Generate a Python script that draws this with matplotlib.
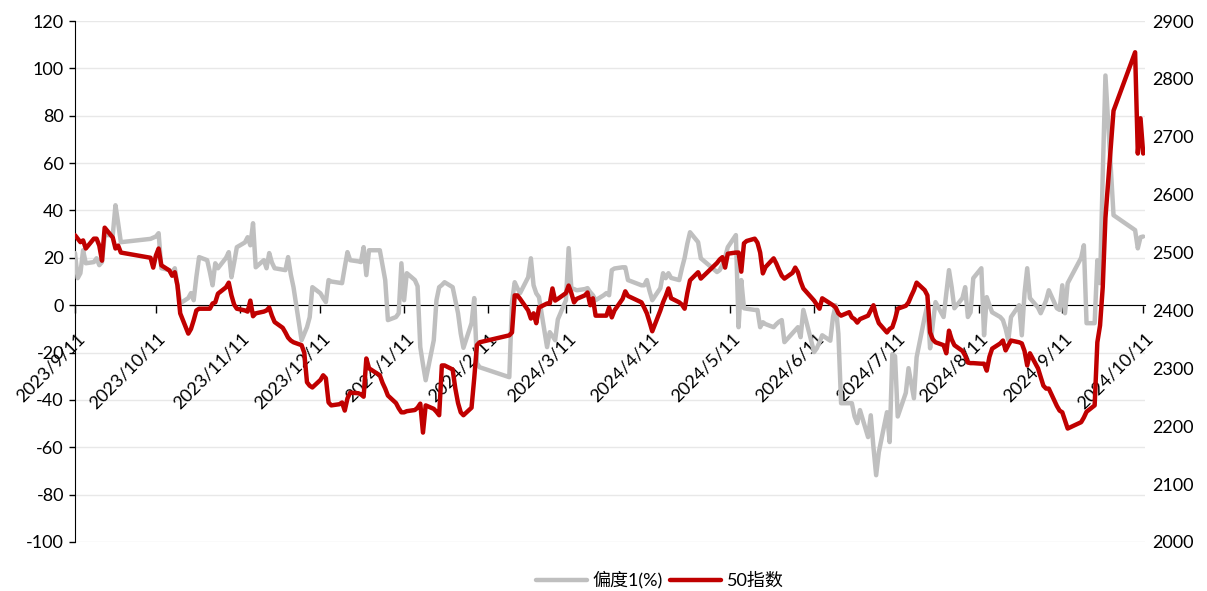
import matplotlib
matplotlib.use('Agg')
import matplotlib.pyplot as plt
import pandas as pd
from matplotlib.transforms import ScaledTranslation

plt.rcParams['font.family'] = ['Lato', 'Noto Sans CJK SC', 'DejaVu Sans']
plt.rcParams['axes.unicode_minus'] = False

# 偏度1(%)  (left axis)
skew_dates = [
    '2023-09-11', '2023-09-12', '2023-09-13', '2023-09-14', '2023-09-15', '2023-09-18', '2023-09-19',
    '2023-09-20', '2023-09-21', '2023-09-22', '2023-09-25', '2023-09-26', '2023-09-27', '2023-09-28',
    '2023-10-09', '2023-10-10', '2023-10-11', '2023-10-12', '2023-10-13', '2023-10-16', '2023-10-17',
    '2023-10-18', '2023-10-19', '2023-10-20', '2023-10-23', '2023-10-24', '2023-10-25', '2023-10-26',
    '2023-10-27', '2023-10-30', '2023-10-31', '2023-11-01', '2023-11-02', '2023-11-03', '2023-11-06',
    '2023-11-07', '2023-11-08', '2023-11-09', '2023-11-10', '2023-11-13', '2023-11-14', '2023-11-15',
    '2023-11-16', '2023-11-17', '2023-11-20', '2023-11-21', '2023-11-22', '2023-11-23', '2023-11-24',
    '2023-11-27', '2023-11-28', '2023-11-29', '2023-11-30', '2023-12-01', '2023-12-04', '2023-12-05',
    '2023-12-06', '2023-12-07', '2023-12-08', '2023-12-11', '2023-12-12', '2023-12-13', '2023-12-14',
    '2023-12-15', '2023-12-18', '2023-12-19', '2023-12-20', '2023-12-21', '2023-12-22', '2023-12-25',
    '2023-12-26', '2023-12-27', '2023-12-28', '2023-12-29', '2024-01-02', '2024-01-03', '2024-01-04',
    '2024-01-05', '2024-01-08', '2024-01-09', '2024-01-10', '2024-01-11', '2024-01-12', '2024-01-15',
    '2024-01-16', '2024-01-17', '2024-01-18', '2024-01-19', '2024-01-22', '2024-01-23', '2024-01-24',
    '2024-01-25', '2024-01-26', '2024-01-29', '2024-01-30', '2024-01-31', '2024-02-01', '2024-02-02',
    '2024-02-05', '2024-02-06', '2024-02-07', '2024-02-08', '2024-02-19', '2024-02-20', '2024-02-21',
    '2024-02-22', '2024-02-23', '2024-02-26', '2024-02-27', '2024-02-28', '2024-02-29', '2024-03-01',
    '2024-03-04', '2024-03-05', '2024-03-06', '2024-03-07', '2024-03-08', '2024-03-11', '2024-03-12',
    '2024-03-13', '2024-03-14', '2024-03-15', '2024-03-18', '2024-03-19', '2024-03-20', '2024-03-21',
    '2024-03-22', '2024-03-25', '2024-03-26', '2024-03-27', '2024-03-28', '2024-03-29', '2024-04-01',
    '2024-04-02', '2024-04-03', '2024-04-08', '2024-04-09', '2024-04-10', '2024-04-11', '2024-04-12',
    '2024-04-15', '2024-04-16', '2024-04-17', '2024-04-18', '2024-04-19', '2024-04-22', '2024-04-23',
    '2024-04-24', '2024-04-25', '2024-04-26', '2024-04-29', '2024-04-30', '2024-05-06', '2024-05-07',
    '2024-05-08', '2024-05-09', '2024-05-10', '2024-05-13', '2024-05-14', '2024-05-15', '2024-05-16',
    '2024-05-17', '2024-05-20', '2024-05-21', '2024-05-22', '2024-05-23', '2024-05-24', '2024-05-27',
    '2024-05-28', '2024-05-29', '2024-05-30', '2024-05-31', '2024-06-03', '2024-06-04', '2024-06-05',
    '2024-06-06', '2024-06-07', '2024-06-11', '2024-06-12', '2024-06-13', '2024-06-14', '2024-06-17',
    '2024-06-18', '2024-06-19', '2024-06-20', '2024-06-21', '2024-06-24', '2024-06-25', '2024-06-26',
    '2024-06-27', '2024-06-28', '2024-07-01', '2024-07-02', '2024-07-03', '2024-07-04', '2024-07-05',
    '2024-07-08', '2024-07-09', '2024-07-10', '2024-07-11', '2024-07-12', '2024-07-15', '2024-07-16',
    '2024-07-17', '2024-07-18', '2024-07-19', '2024-07-22', '2024-07-23', '2024-07-24', '2024-07-25',
    '2024-07-26', '2024-07-29', '2024-07-30', '2024-07-31', '2024-08-01', '2024-08-02', '2024-08-05',
    '2024-08-06', '2024-08-07', '2024-08-08', '2024-08-09', '2024-08-12', '2024-08-13', '2024-08-14',
    '2024-08-15', '2024-08-16', '2024-08-19', '2024-08-20', '2024-08-21', '2024-08-22', '2024-08-23',
    '2024-08-26', '2024-08-27', '2024-08-28', '2024-08-29', '2024-08-30', '2024-09-02', '2024-09-03',
    '2024-09-04', '2024-09-05', '2024-09-06', '2024-09-09', '2024-09-10', '2024-09-11', '2024-09-12',
    '2024-09-13', '2024-09-18', '2024-09-19', '2024-09-20', '2024-09-23', '2024-09-24', '2024-09-25',
    '2024-09-26', '2024-09-27', '2024-09-30', '2024-10-08', '2024-10-09', '2024-10-10', '2024-10-11',
]
skew_vals = [
    22.0, 11.4, 13.5, 23.2, 17.7, 18.2, 19.8,
    16.9, 18.2, 29.6, 29.6, 42.2, 34.6, 26.6,
    28.0, 28.5, 29.0, 30.4, 15.6, 14.8, 13.5,
    15.6, 8.0, 0.8, 3.0, 5.1, 2.1, 12.0,
    20.3, 19.0, 14.0, 8.4, 17.7, 15.6, 20.0,
    22.4, 11.8, 18.0, 24.5, 26.5, 28.7, 25.3,
    34.6, 16.0, 19.0, 15.6, 22.0, 18.0, 15.6,
    15.0, 14.8, 20.3, 13.0, 7.6, -14.8, -12.0,
    -9.3, -5.1, 7.6, 5.0, 3.0, 1.3, 10.6,
    10.0, 9.5, 9.3, 16.0, 22.4, 19.0, 18.5,
    18.2, 24.5, 12.7, 23.2, 23.2, 17.0, 10.6,
    -6.3, -5.0, -3.4, 17.7, 2.1, 13.5, 10.6,
    8.0, -17.7, -25.0, -31.7, -14.8, 2.1, 7.6,
    8.5, 9.7, 7.6, 2.0, -3.4, -12.0, -18.0,
    -7.6, 3.0, -24.5, -26.2, -30.4, 1.3, 9.7,
    7.2, 5.1, 11.8, 19.8, 8.4, 5.0, 3.4,
    -17.7, -11.4, -13.0, -14.8, -6.0, 2.1, 24.1,
    7.2, 6.8, 6.3, 6.8, 7.2, 5.5, 4.2,
    2.1, 4.2, 5.1, 4.2, 14.8, 15.5, 16.0,
    16.0, 10.6, 8.4, 8.4, 10.6, 6.0, 2.1,
    7.2, 13.5, 11.4, 13.5, 11.5, 10.6, 15.6,
    20.0, 26.0, 30.8, 26.6, 19.8, 14.0, 14.8,
    17.0, 20.3, 24.5, 29.6, -9.3, 10.6, -1.3,
    -1.5, -2.0, -2.0, -9.3, -7.2, -8.0, -9.3,
    -8.0, -7.0, -6.3, -15.6, -11.8, -10.5, -9.3,
    -13.5, -2.0, -19.8, -18.2, -15.6, -12.7, -15.0,
    -5.0, 0.0, -12.0, -41.4, -41.4, -41.4, -47.0,
    -49.8, -44.3, -55.7, -46.5, -60.0, -71.8, -62.0,
    -45.2, -57.8, -20.7, -21.5, -47.0, -37.0, -26.6,
    -33.0, -39.3, -22.0, -5.0, 0.0, -18.2, -8.0,
    1.3, -5.0, 5.0, 14.8, 7.6, -1.3, 3.0,
    7.6, -5.0, -3.0, 11.4, 15.6, -12.7, 3.4,
    0.0, -3.0, -5.0, -6.3, -10.0, -14.8, -5.0,
    0.0, -12.7, 5.0, 15.6, 3.0, -1.0, -3.4,
    -0.8, 2.0, 6.3, -1.3, -2.0, 8.4, -3.4,
    9.3, 20.0, 25.3, -7.6, -7.6, 19.0, 9.3,
    55.0, 97.0, 38.0, 31.7, 24.0, 28.7, 29.0,
]

# 50指数  (right axis)
index_dates = [
    '2023-09-11', '2023-09-12', '2023-09-13', '2023-09-14', '2023-09-15', '2023-09-18', '2023-09-19',
    '2023-09-20', '2023-09-21', '2023-09-22', '2023-09-25', '2023-09-26', '2023-09-27', '2023-09-28',
    '2023-10-09', '2023-10-10', '2023-10-11', '2023-10-12', '2023-10-13', '2023-10-16', '2023-10-17',
    '2023-10-18', '2023-10-19', '2023-10-20', '2023-10-23', '2023-10-24', '2023-10-25', '2023-10-26',
    '2023-10-27', '2023-10-30', '2023-10-31', '2023-11-01', '2023-11-02', '2023-11-03', '2023-11-06',
    '2023-11-07', '2023-11-08', '2023-11-09', '2023-11-10', '2023-11-13', '2023-11-14', '2023-11-15',
    '2023-11-16', '2023-11-17', '2023-11-20', '2023-11-21', '2023-11-22', '2023-11-23', '2023-11-24',
    '2023-11-27', '2023-11-28', '2023-11-29', '2023-11-30', '2023-12-01', '2023-12-04', '2023-12-05',
    '2023-12-06', '2023-12-07', '2023-12-08', '2023-12-11', '2023-12-12', '2023-12-13', '2023-12-14',
    '2023-12-15', '2023-12-18', '2023-12-19', '2023-12-20', '2023-12-21', '2023-12-22', '2023-12-25',
    '2023-12-26', '2023-12-27', '2023-12-28', '2023-12-29', '2024-01-02', '2024-01-03', '2024-01-04',
    '2024-01-05', '2024-01-08', '2024-01-09', '2024-01-10', '2024-01-11', '2024-01-12', '2024-01-15',
    '2024-01-16', '2024-01-17', '2024-01-18', '2024-01-19', '2024-01-22', '2024-01-23', '2024-01-24',
    '2024-01-25', '2024-01-26', '2024-01-29', '2024-01-30', '2024-01-31', '2024-02-01', '2024-02-02',
    '2024-02-05', '2024-02-06', '2024-02-07', '2024-02-08', '2024-02-19', '2024-02-20', '2024-02-21',
    '2024-02-22', '2024-02-23', '2024-02-26', '2024-02-27', '2024-02-28', '2024-02-29', '2024-03-01',
    '2024-03-04', '2024-03-05', '2024-03-06', '2024-03-07', '2024-03-08', '2024-03-11', '2024-03-12',
    '2024-03-13', '2024-03-14', '2024-03-15', '2024-03-18', '2024-03-19', '2024-03-20', '2024-03-21',
    '2024-03-22', '2024-03-25', '2024-03-26', '2024-03-27', '2024-03-28', '2024-03-29', '2024-04-01',
    '2024-04-02', '2024-04-03', '2024-04-08', '2024-04-09', '2024-04-10', '2024-04-11', '2024-04-12',
    '2024-04-15', '2024-04-16', '2024-04-17', '2024-04-18', '2024-04-19', '2024-04-22', '2024-04-23',
    '2024-04-24', '2024-04-25', '2024-04-26', '2024-04-29', '2024-04-30', '2024-05-06', '2024-05-07',
    '2024-05-08', '2024-05-09', '2024-05-10', '2024-05-13', '2024-05-14', '2024-05-15', '2024-05-16',
    '2024-05-17', '2024-05-20', '2024-05-21', '2024-05-22', '2024-05-23', '2024-05-24', '2024-05-27',
    '2024-05-28', '2024-05-29', '2024-05-30', '2024-05-31', '2024-06-03', '2024-06-04', '2024-06-05',
    '2024-06-06', '2024-06-07', '2024-06-11', '2024-06-12', '2024-06-13', '2024-06-14', '2024-06-17',
    '2024-06-18', '2024-06-19', '2024-06-20', '2024-06-21', '2024-06-24', '2024-06-25', '2024-06-26',
    '2024-06-27', '2024-06-28', '2024-07-01', '2024-07-02', '2024-07-03', '2024-07-04', '2024-07-05',
    '2024-07-08', '2024-07-09', '2024-07-10', '2024-07-11', '2024-07-12', '2024-07-15', '2024-07-16',
    '2024-07-17', '2024-07-18', '2024-07-19', '2024-07-22', '2024-07-23', '2024-07-24', '2024-07-25',
    '2024-07-26', '2024-07-29', '2024-07-30', '2024-07-31', '2024-08-01', '2024-08-02', '2024-08-05',
    '2024-08-06', '2024-08-07', '2024-08-08', '2024-08-09', '2024-08-12', '2024-08-13', '2024-08-14',
    '2024-08-15', '2024-08-16', '2024-08-19', '2024-08-20', '2024-08-21', '2024-08-22', '2024-08-23',
    '2024-08-26', '2024-08-27', '2024-08-28', '2024-08-29', '2024-08-30', '2024-09-02', '2024-09-03',
    '2024-09-04', '2024-09-05', '2024-09-06', '2024-09-09', '2024-09-10', '2024-09-11', '2024-09-12',
    '2024-09-13', '2024-09-18', '2024-09-19', '2024-09-20', '2024-09-23', '2024-09-24', '2024-09-25',
    '2024-09-26', '2024-09-27', '2024-09-30', '2024-10-08', '2024-10-09', '2024-10-10', '2024-10-11',
]
index_vals = [
    2530, 2524, 2518, 2521, 2507, 2524, 2524,
    2512, 2486, 2543, 2526, 2507, 2512, 2500,
    2491, 2474, 2495, 2507, 2478, 2469, 2460,
    2466, 2443, 2395, 2360, 2368, 2383, 2400,
    2403, 2403, 2403, 2412, 2414, 2429, 2440,
    2448, 2426, 2410, 2403, 2400, 2398, 2417,
    2390, 2395, 2398, 2400, 2405, 2391, 2380,
    2370, 2362, 2353, 2348, 2345, 2340, 2327,
    2276, 2270, 2267, 2280, 2288, 2283, 2241,
    2236, 2238, 2241, 2227, 2248, 2258, 2257,
    2255, 2251, 2317, 2300, 2288, 2275, 2265,
    2253, 2240, 2231, 2224, 2224, 2226, 2228,
    2232, 2239, 2189, 2236, 2230, 2225, 2219,
    2305, 2305, 2298, 2265, 2240, 2224, 2219,
    2232, 2283, 2340, 2345, 2357, 2362, 2426,
    2426, 2420, 2400, 2386, 2395, 2378, 2405,
    2412, 2412, 2438, 2417, 2420, 2430, 2443,
    2430, 2414, 2420, 2426, 2431, 2409, 2421,
    2391, 2391, 2391, 2405, 2388, 2400, 2420,
    2433, 2425, 2414, 2405, 2395, 2380, 2364,
    2400, 2414, 2425, 2438, 2421, 2414, 2410,
    2403, 2430, 2452, 2466, 2455, 2482, 2488,
    2492, 2474, 2498, 2500, 2500, 2467, 2516,
    2520, 2524, 2517, 2500, 2464, 2475, 2490,
    2481, 2470, 2460, 2455, 2465, 2474, 2466,
    2450, 2438, 2417, 2410, 2403, 2421, 2412,
    2409, 2405, 2395, 2391, 2397, 2388, 2385,
    2379, 2385, 2391, 2400, 2409, 2391, 2378,
    2362, 2368, 2371, 2385, 2403, 2408, 2414,
    2425, 2435, 2448, 2435, 2426, 2362, 2350,
    2345, 2340, 2326, 2365, 2350, 2340, 2330,
    2322, 2310, 2309, 2309, 2308, 2308, 2296,
    2320, 2334, 2343, 2348, 2331, 2340, 2348,
    2345, 2343, 2330, 2305, 2326, 2300, 2285,
    2270, 2265, 2265, 2235, 2227, 2224, 2210,
    2196, 2207, 2215, 2225, 2236, 2345, 2374,
    2440, 2560, 2745, 2846, 2671, 2732, 2671,
]

tick_labels = ['2023/9/11', '2023/10/11', '2023/11/11', '2023/12/11', '2024/1/11', '2024/2/11',
               '2024/3/11', '2024/4/11', '2024/5/11', '2024/6/11', '2024/7/11', '2024/8/11',
               '2024/9/11', '2024/10/11']

skew_x = pd.to_datetime(skew_dates)
index_x = pd.to_datetime(index_dates)
tick_x = pd.to_datetime(tick_labels, format='%Y/%m/%d')

fig = plt.figure(figsize=(12.07, 5.91), dpi=100)
ax = fig.add_axes([75 / 1207, 1 - 542 / 591, 1070 / 1207, 521 / 591])

l1, = ax.plot(skew_x, skew_vals, color='#BFBFBF', lw=3.2, zorder=3,
              solid_joinstyle='round', solid_capstyle='round', label='偏度1(%)')
ax.set_ylim(-100, 120)
ax.set_yticks(range(-100, 121, 20))
ax.set_xlim(tick_x[0], tick_x[-1] + pd.Timedelta(hours=16))
ax.spines['top'].set_visible(False)
ax.spines['right'].set_visible(False)
ax.spines['bottom'].set_position(('data', 0))
ax.spines['bottom'].set_zorder(2.6)
ax.grid(axis='y', color='#E8E8E8', lw=1)
ax.set_axisbelow(True)
ax.set_xticks(tick_x)
ax.set_xticklabels([])
ax.tick_params(axis='x', length=5.5, width=1, direction='out')
ax.tick_params(axis='y', length=4, width=1, pad=4, labelsize=13)

# rotated date labels hanging below the zero line
off = ScaledTranslation(7 / 100, -31 / 100, fig.dpi_scale_trans)
for d, lab in zip(tick_x, tick_labels):
    ax.text(d, 0, lab, transform=ax.transData + off, rotation=45, rotation_mode='anchor',
            ha='right', va='center', fontsize=13, zorder=2.5, clip_on=False)

ax2 = ax.twinx()
l2, = ax2.plot(index_x, index_vals, color='#C00000', lw=3.2,
               solid_joinstyle='round', solid_capstyle='round', label='50指数')
ax2.set_ylim(2000, 2900)
ax2.set_yticks(range(2000, 2901, 100))
for s in ax2.spines.values():
    s.set_visible(False)
ax2.tick_params(axis='y', length=0, pad=5, labelsize=13)

fig.legend([l1, l2], ['偏度1(%)', '50指数'], loc='center', bbox_to_anchor=(660 / 1207, 1 - 580 / 591),
           ncol=2, frameon=False, fontsize=13, handlelength=2.8, handletextpad=0.35,
           columnspacing=0.4)

fig.savefig('out.png', dpi=100)
